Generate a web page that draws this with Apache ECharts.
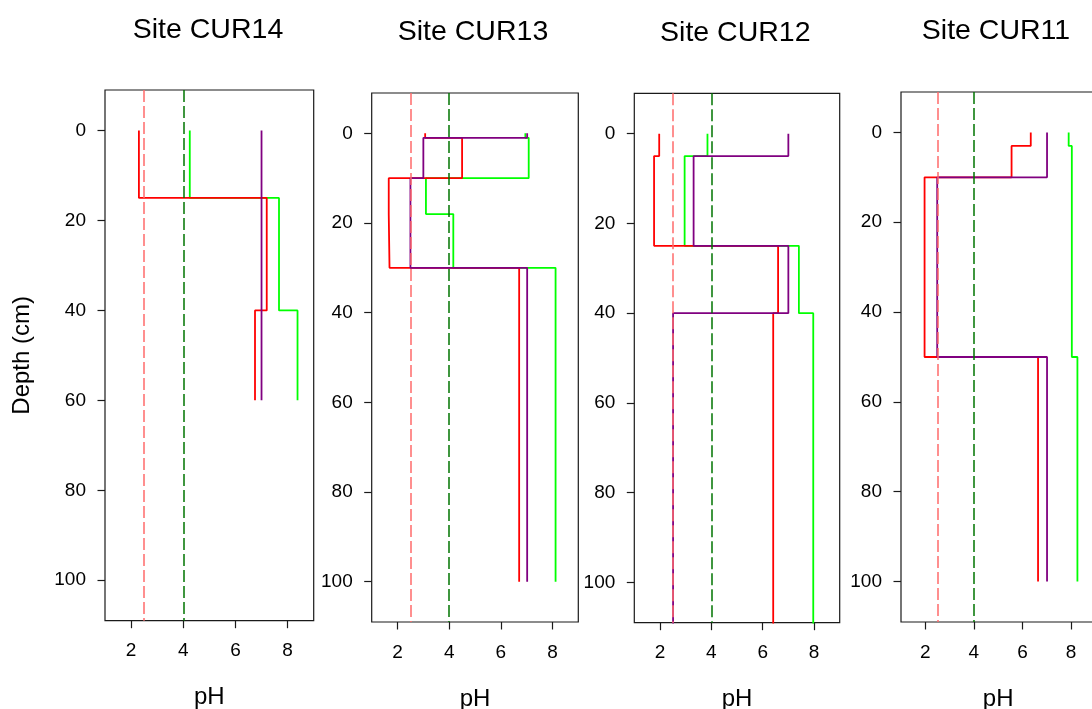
<!DOCTYPE html>
<html>
<head>
<meta charset="utf-8">
<script src="https://cdn.jsdelivr.net/npm/echarts@6/dist/echarts.min.js"></script>
<style>
  html, body { margin: 0; padding: 0; background: #ffffff; }
  #chart { width: 1092px; height: 709px; }
</style>
</head>
<body>
<div id="chart"></div>
<script>
// ---- Data: soil pH by depth, one step profile per layer ----
const siteTitles = ['Site CUR14', 'Site CUR13', 'Site CUR12', 'Site CUR11'];
const phTicks = [2, 4, 6, 8];
const depthTicks = [0, 20, 40, 60, 80, 100];
const thresholdPH = [2.5, 4.0];

// CUR14
const cur14GreenDepth = [0, 15, 40, 60];
const cur14GreenPH = [4.25, 7.67, 8.38];
const cur14RedDepth = [0, 15, 40, 60];
const cur14RedPH = [2.3, 7.2, 6.75];
const cur14PurpleDepth = [0, 15, 40, 60];
const cur14PurplePH = [7.0, 7.0, 7.0];

// CUR13
const cur13GreenDepth = [0, 1, 10, 18, 30, 100];
const cur13GreenPH = [6.95, 7.08, 3.1, 4.16, 8.12];
const cur13RedDepth = [0, 1, 10, 18, 30, 100];
const cur13RedPH = [3.07, 4.5, 1.66, 1.69, 6.71];
const cur13PurpleDepth = [0, 1, 10, 30, 100];
const cur13PurplePH = [7.02, 3.0, 2.5, 7.02];

// CUR12 (deepest layer continues below the frame)
const cur12GreenDepth = [0, 5, 25, 40, 120];
const cur12GreenPH = [3.85, 2.96, 7.41, 7.97];
const cur12RedDepth = [0, 5, 25, 40, 120];
const cur12RedPH = [1.97, 1.77, 6.6, 6.41];
const cur12PurpleDepth = [0, 5, 25, 40, 120];
const cur12PurplePH = [7.0, 3.31, 7.0, 2.51];

// CUR11
const cur11GreenDepth = [0, 3, 50, 100];
const cur11GreenPH = [7.9, 8.03, 8.26];
const cur11RedDepth = [0, 3, 10, 50, 100];
const cur11RedPH = [6.34, 5.55, 1.97, 6.64];
const cur11PurpleDepth = [0, 10, 50, 100];
const cur11PurplePH = [7.01, 2.49, 7.01];

// ---- Styling / layout ----
const FONT = '"Liberation Sans", Arial, Helvetica, sans-serif';
const COLOR_GREEN = '#00ff00';
const COLOR_RED = '#ff0000';
const COLOR_PURPLE = '#800080';
const COLOR_LIMIT_LOW = '#ff6b6b';
const COLOR_LIMIT_HIGH = '#007400';

const panelLayout = [
  { grid: { left: 105, top: 90, width: 208.7, height: 530.7 }, titleX: 203, titleY: 11 },
  { grid: { left: 371.7, top: 93, width: 206.6, height: 529 }, titleX: 468, titleY: 13 },
  { grid: { left: 634.3, top: 93.3, width: 205.4, height: 529.4 }, titleX: 730.3, titleY: 13.5 },
  { grid: { left: 901, top: 92, width: 194.4, height: 530 }, titleX: 991, titleY: 12 }
];

const panelProfiles = [
  [[cur14GreenDepth, cur14GreenPH, COLOR_GREEN], [cur14RedDepth, cur14RedPH, COLOR_RED], [cur14PurpleDepth, cur14PurplePH, COLOR_PURPLE]],
  [[cur13GreenDepth, cur13GreenPH, COLOR_GREEN], [cur13RedDepth, cur13RedPH, COLOR_RED], [cur13PurpleDepth, cur13PurplePH, COLOR_PURPLE]],
  [[cur12GreenDepth, cur12GreenPH, COLOR_GREEN], [cur12RedDepth, cur12RedPH, COLOR_RED], [cur12PurpleDepth, cur12PurplePH, COLOR_PURPLE]],
  [[cur11GreenDepth, cur11GreenPH, COLOR_GREEN], [cur11RedDepth, cur11RedPH, COLOR_RED], [cur11PurpleDepth, cur11PurplePH, COLOR_PURPLE]]
];

// Turn layer boundaries + layer pH into a stepped path (x = pH, y = depth)
function stepPath(depths, ph) {
  const pts = [];
  for (let i = 0; i < ph.length; i++) {
    pts.push([ph[i], depths[i]]);
    pts.push([ph[i], depths[i + 1]]);
  }
  return pts;
}

const grids = [], xAxes = [], yAxes = [], titles = [], series = [];

panelLayout.forEach((p, k) => {
  grids.push(Object.assign({
    show: true, borderColor: '#1a1a1a', borderWidth: 1.2,
    backgroundColor: 'transparent', containLabel: false, outerBoundsMode: 'none'
  }, p.grid));

  titles.push({
    text: siteTitles[k], left: p.titleX, top: p.titleY, textAlign: 'center',
    textStyle: { fontFamily: FONT, fontSize: 28.5, fontWeight: 'normal', color: '#000' }
  });

  xAxes.push({
    type: 'value', gridIndex: k, min: 1, max: 9, position: 'bottom',
    name: 'pH', nameLocation: 'middle', nameGap: 65,
    nameTextStyle: { fontFamily: FONT, fontSize: 24, color: '#000' },
    axisLine: { show: false, onZero: false },
    axisTick: { show: true, customValues: phTicks, length: 7.5, lineStyle: { color: '#1a1a1a', width: 1.2 } },
    axisLabel: { customValues: phTicks, fontFamily: FONT, fontSize: 19, color: '#000', margin: 21 },
    splitLine: { show: false }
  });

  const yAxis = {
    type: 'value', gridIndex: k, min: -9, max: 109, inverse: true, position: 'left',
    axisLine: { show: false, onZero: false },
    axisTick: { show: true, customValues: depthTicks, length: 7.5, lineStyle: { color: '#1a1a1a', width: 1.2 } },
    axisLabel: { customValues: depthTicks, fontFamily: FONT, fontSize: 19, color: '#000', margin: 19 },
    splitLine: { show: false }
  };
  if (k === 0) {
    yAxis.name = 'Depth (cm)';
    yAxis.nameLocation = 'middle';
    yAxis.nameGap = 71;
    yAxis.nameTextStyle = { fontFamily: FONT, fontSize: 24, color: '#000' };
  }
  yAxes.push(yAxis);

  panelProfiles[k].forEach(([depths, ph, color], j) => {
    const s = {
      type: 'line', xAxisIndex: k, yAxisIndex: k,
      data: stepPath(depths, ph),
      showSymbol: false, symbol: 'none', clip: true, silent: true,
      lineStyle: { color: color, width: 1.8 },
      z: 2 + j
    };
    if (j === panelProfiles[k].length - 1) {
      s.markLine = {
        silent: true, symbol: 'none', animation: false,
        label: { show: false },
        data: [
          { xAxis: thresholdPH[0], lineStyle: { color: COLOR_LIMIT_LOW, width: 1.5, type: [12, 4] } },
          { xAxis: thresholdPH[1], lineStyle: { color: COLOR_LIMIT_HIGH, width: 1.5, type: [12, 4] } }
        ]
      };
    }
    series.push(s);
  });
});

const chart = echarts.init(document.getElementById('chart'), null, { renderer: 'canvas' });
chart.setOption({
  animation: false,
  backgroundColor: '#ffffff',
  title: titles,
  grid: grids,
  xAxis: xAxes,
  yAxis: yAxes,
  series: series
});
</script>
</body>
</html>
